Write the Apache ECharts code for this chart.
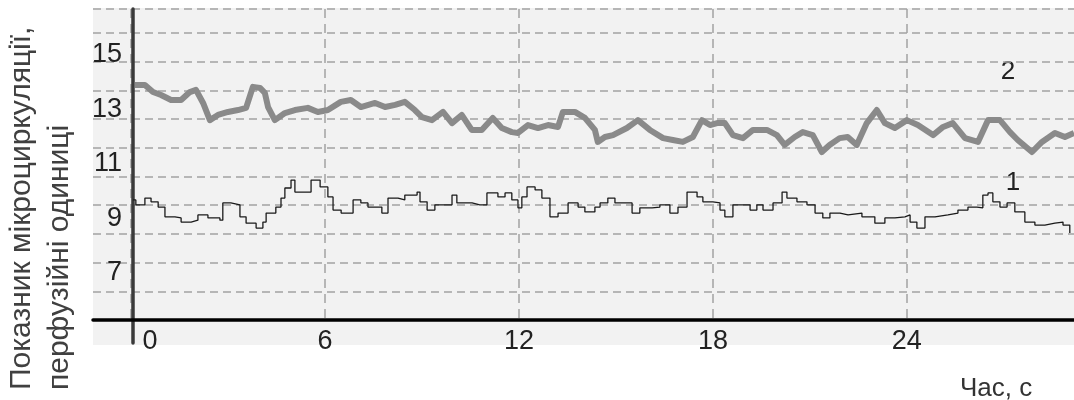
<!DOCTYPE html>
<html>
<head>
<meta charset="utf-8">
<script src="https://cdn.jsdelivr.net/npm/echarts@6/dist/echarts.min.js"></script>
<style>
  html, body { margin: 0; padding: 0; background: #ffffff; }
  #chart { width: 1074px; height: 400px; }
</style>
</head>
<body>
<div id="chart"></div>
<script>
// Curve 1: thin stepped trace (time in s, perfusion units)
const time1 = [0.06, 0.15, 0.43, 0.62, 0.84, 1.05, 1.36, 1.55, 1.86, 2.07, 2.38, 2.75, 2.84, 3.09, 3.37, 3.56, 3.87, 4.08, 4.18, 4.48,
  4.64, 4.76, 4.95, 5.07, 5.38, 5.57, 5.85, 6.09, 6.25, 6.50, 6.77, 6.87, 7.11, 7.33, 7.76, 7.95, 8.26, 8.47, 8.85, 8.94,
  9.16, 9.40, 9.77, 9.93, 10.08, 10.55, 10.79, 11.01, 11.35, 11.57, 11.78, 11.97, 12.09, 12.25, 12.50, 12.71, 12.96, 13.21, 13.52, 13.83,
  14.04, 14.35, 14.51, 14.75, 14.97, 15.22, 15.50, 15.74, 16.12, 16.36, 16.67, 16.92, 17.20, 17.51, 17.69, 18.00, 18.22, 18.37, 18.62, 18.93,
  19.15, 19.36, 19.55, 19.86, 20.14, 20.29, 20.60, 20.91, 21.16, 21.40, 21.62, 21.93, 22.18, 22.61, 23.01, 23.32, 23.63, 23.94, 24.10, 24.31,
  24.56, 24.87, 25.27, 25.58, 25.89, 26.17, 26.35, 26.51, 26.66, 26.88, 27.10, 27.34, 27.65, 27.96, 28.27, 28.58, 28.83, 29.04];
const value1 = [9.68, 9.50, 9.75, 9.61, 9.42, 9.06, 9.02, 8.87, 8.94, 9.13, 9.02, 8.94, 9.57, 9.50, 9.06, 8.83, 8.65, 8.87, 9.20, 9.42,
  9.75, 10.12, 10.41, 9.97, 9.97, 10.41, 10.16, 9.79, 9.31, 9.20, 9.20, 9.68, 9.57, 9.42, 9.20, 9.75, 9.68, 9.86, 9.97, 9.61,
  9.31, 9.50, 9.50, 9.86, 9.57, 9.50, 9.50, 9.94, 9.79, 9.94, 9.68, 9.39, 9.79, 10.16, 10.05, 9.75, 9.06, 9.20, 9.57, 9.42,
  9.24, 9.42, 9.57, 9.75, 9.57, 9.57, 9.20, 9.39, 9.42, 9.50, 9.20, 9.42, 9.97, 9.79, 9.61, 9.57, 9.31, 9.06, 9.50, 9.50,
  9.31, 9.50, 9.31, 9.57, 9.97, 9.75, 9.61, 9.50, 9.20, 9.02, 9.20, 9.13, 9.20, 9.06, 8.83, 9.02, 9.06, 9.13, 8.87, 8.65,
  9.06, 9.13, 9.20, 9.31, 9.42, 9.39, 9.86, 9.94, 9.61, 9.42, 9.57, 9.24, 8.87, 8.76, 8.83, 8.87, 8.76, 8.47];

// Curve 2: thick grey trace
const time2 = [0.12, 0.43, 0.68, 0.93, 1.24, 1.55, 1.82, 2.01, 2.23, 2.44, 2.69, 3.00, 3.31, 3.56, 3.77, 3.99, 4.14, 4.24, 4.45, 4.76,
  5.07, 5.47, 5.78, 6.09, 6.49, 6.80, 7.11, 7.55, 7.86, 8.17, 8.47, 8.78, 9.00, 9.31, 9.65, 9.93, 10.23, 10.54, 10.85, 11.19,
  11.47, 11.78, 11.97, 12.28, 12.59, 12.90, 13.21, 13.36, 13.73, 14.04, 14.35, 14.44, 14.66, 14.91, 15.34, 15.68, 16.05, 16.46, 16.76, 17.07,
  17.38, 17.66, 17.91, 18.13, 18.37, 18.62, 18.93, 19.24, 19.67, 19.98, 20.22, 20.53, 20.78, 21.09, 21.37, 21.61, 21.92, 22.17, 22.45, 22.76,
  23.07, 23.32, 23.63, 24.00, 24.34, 24.81, 25.12, 25.42, 25.80, 26.20, 26.51, 26.88, 27.19, 27.43, 27.87, 28.18, 28.58, 28.89, 29.17];
const value2 = [13.90, 13.90, 13.64, 13.53, 13.35, 13.35, 13.64, 13.72, 13.24, 12.61, 12.80, 12.91, 12.98, 13.06, 13.83, 13.79, 13.61, 13.09, 12.61, 12.87,
  12.98, 13.06, 12.91, 12.98, 13.28, 13.35, 13.09, 13.24, 13.09, 13.17, 13.28, 12.98, 12.72, 12.61, 12.91, 12.50, 12.80, 12.25, 12.25, 12.69,
  12.32, 12.17, 12.14, 12.43, 12.32, 12.43, 12.36, 12.91, 12.91, 12.69, 12.25, 11.81, 11.99, 12.06, 12.32, 12.61, 12.25, 11.95, 11.88, 11.81,
  11.99, 12.61, 12.43, 12.50, 12.50, 12.06, 11.95, 12.25, 12.25, 12.06, 11.70, 11.99, 12.17, 12.06, 11.44, 11.70, 11.95, 11.99, 11.70, 12.50,
  12.98, 12.50, 12.32, 12.61, 12.43, 12.06, 12.36, 12.50, 11.95, 11.81, 12.61, 12.61, 12.17, 11.88, 11.44, 11.81, 12.14, 11.99, 12.14];

// Axis ticks
const yTickLabels = [7, 9, 11, 13, 15];
const xTickLabels = [0, 6, 12, 18, 24];

const yTitleLine1 = 'Показник мікроциркуляції,';
const yTitleLine2 = 'перфузійні одиниці';
const xTitle = 'Час, с';
const curveNames = ['1', '2'];

const zip = (t, v) => t.map((x, i) => [x, v[i]]);

const FONT = '"Liberation Sans", Arial, sans-serif';
const gridDash = { color: '#a3a3a3', width: 1.5, type: [8, 5] };

const chart = echarts.init(document.getElementById('chart'), null, { renderer: 'canvas' });

chart.setOption({
  animation: false,
  backgroundColor: '#ffffff',
  textStyle: { fontFamily: FONT },
  graphic: [
    { type: 'rect', z: -10, silent: true,
      shape: { x: 93, y: 8, width: 981, height: 337 },
      style: { fill: '#f2f2f2' } },
    { type: 'text', x: 22, y: 390, rotation: Math.PI / 2, silent: true,
      style: { text: yTitleLine1, fill: '#404040', font: '30px ' + FONT, textAlign: 'left', textVerticalAlign: 'middle' } },
    { type: 'text', x: 60, y: 390, rotation: Math.PI / 2, silent: true,
      style: { text: yTitleLine2, fill: '#404040', font: '30px ' + FONT, textAlign: 'left', textVerticalAlign: 'middle' } },
    { type: 'text', x: 960, y: 389, silent: true,
      style: { text: xTitle, fill: '#333333', font: '26px ' + FONT, textAlign: 'left', textVerticalAlign: 'middle' } },
    { type: 'text', x: 1008, y: 72, silent: true,
      style: { text: curveNames[1], fill: '#222222', font: '26px ' + FONT, textAlign: 'center', textVerticalAlign: 'middle' } },
    { type: 'text', x: 1013, y: 183, silent: true,
      style: { text: curveNames[0], fill: '#222222', font: '26px ' + FONT, textAlign: 'center', textVerticalAlign: 'middle' } }
  ],
  grid: [
    // data area with vertical time grid
    { left: 131, right: 0, top: 9, bottom: 80 },
    // horizontal grid and time axis line
    { left: 93, right: 0, top: 9, bottom: 80 },
    // value axis line and its labels
    { left: 133, right: 0, top: 9, bottom: 57 }
  ],
  xAxis: [
    { gridIndex: 0, type: 'value', min: 0, max: 29.17,
      axisLine: { show: false },
      axisTick: { show: false, customValues: xTickLabels },
      axisLabel: {
        customValues: xTickLabels,
        fontSize: 27, color: '#222222', margin: 8, fontFamily: FONT,
        formatter: v => (v === 0 ? '{z|0}' : String(v)),
        rich: { z: { fontSize: 27, color: '#222222', fontFamily: FONT, padding: [0, 0, 0, 38] } }
      },
      splitLine: { show: true, lineStyle: { color: '#a3a3a3', width: 1.5, type: [9, 6] } } },
    { gridIndex: 1, type: 'value', min: -1.175, max: 29.17,
      axisLine: { show: true, onZero: false, lineStyle: { color: '#000000', width: 3.5 } },
      axisTick: { show: false }, axisLabel: { show: false }, splitLine: { show: false } },
    { gridIndex: 2, type: 'value', min: 0, max: 1, show: false }
  ],
  yAxis: [
    { gridIndex: 0, type: 'value', min: 5.275, max: 16.688, show: false, splitLine: { show: false } },
    { gridIndex: 1, type: 'value', min: 6, max: 16.84, interval: 1,
      axisLine: { show: false }, axisTick: { show: false }, axisLabel: { show: false },
      splitLine: { show: true, lineStyle: gridDash } },
    { gridIndex: 2, type: 'value', min: 4.431, max: 16.688,
      axisLine: { show: true, onZero: false, lineStyle: { color: '#3a3a3a', width: 3.5 } },
      axisTick: { show: false },
      axisLabel: { customValues: yTickLabels, fontSize: 27, color: '#222222', margin: 11, fontFamily: FONT },
      splitLine: { show: false } }
  ],
  series: [
    { name: curveNames[1], type: 'line', xAxisIndex: 0, yAxisIndex: 0,
      data: zip(time2, value2), showSymbol: false, symbol: 'none',
      lineStyle: { color: '#8a8a8a', width: 6, join: 'round' } },
    { name: curveNames[0], type: 'line', xAxisIndex: 0, yAxisIndex: 0, step: 'end',
      data: zip(time1, value1), showSymbol: false, symbol: 'none',
      lineStyle: { color: '#1a1a1a', width: 1.3 } }
  ]
});
</script>
</body>
</html>
